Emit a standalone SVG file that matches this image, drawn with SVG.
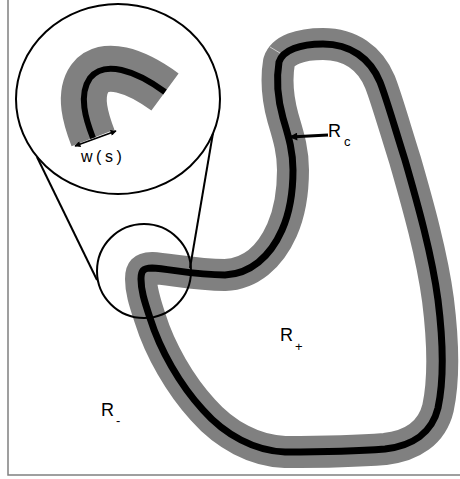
<svg xmlns="http://www.w3.org/2000/svg" width="460" height="479" viewBox="0 0 460 479">
<defs>
<style>
.band{fill:none;stroke:#808080;stroke-linejoin:round}
.core{fill:none;stroke:#000;stroke-linejoin:round}
.lens{fill:none;stroke:#000;stroke-width:2}
.lbl{font-family:"Liberation Sans",Arial,sans-serif;fill:#000}
</style>
<marker id="ah" viewBox="0 0 10 10" refX="9" refY="5" markerWidth="10" markerHeight="8" markerUnits="userSpaceOnUse" orient="auto-start-reverse">
<path d="M0,0 L10,5 L0,10 Z" fill="#000"/>
</marker>
<marker id="ahs" viewBox="0 0 10 10" refX="9" refY="5" markerWidth="8" markerHeight="6" markerUnits="userSpaceOnUse" orient="auto-start-reverse">
<path d="M0,0 L10,5 L0,10 Z" fill="#000"/>
</marker>
</defs>
<rect width="460" height="479" fill="#fff"/>
<path d="M8,0 V475 H460" fill="none" stroke="#808080" stroke-width="1.5"/>

<g id="contour">
<path id="curve" class="band" stroke-width="32" d="M323,44 C350,44 370,58 380,82 C386,97 394,125 405,160 C418,205 432,255 438,300 C443,340 444,380 438,408 C432,433 412,446 385,449 C360,451 310,452 285,452 C255,451 225,435 203,410 C180,385 160,350 150,318 C144,300 141,290 141,279 C141,271 143,268 152,268 C170,269 195,275 225,275 C250,274 270,257 282,230 C290,212 293,190 293,170 C293,150 288,135 283,118 C278,100 276,80 279,62 C283,50 300,44 323,44 Z"/>
<path class="core" stroke-width="7" d="M323,44 C350,44 370,58 380,82 C386,97 394,125 405,160 C418,205 432,255 438,300 C443,340 444,380 438,408 C432,433 412,446 385,449 C360,451 310,452 285,452 C255,451 225,435 203,410 C180,385 160,350 150,318 C144,300 141,290 141,279 C141,271 143,268 152,268 C170,269 195,275 225,275 C250,274 270,257 282,230 C290,212 293,190 293,170 C293,150 288,135 283,118 C278,100 276,80 279,62 C283,50 300,44 323,44 Z"/>
<line x1="270" y1="47" x2="280" y2="53" stroke="#e0e0e0" stroke-width="0.8"/>
</g>

<g id="magnifier">
<circle cx="144" cy="271" r="47" class="lens"/>
<ellipse cx="118" cy="99" rx="102" ry="95" class="lens"/>
<line x1="37" y1="157" x2="97" y2="280" class="lens"/>
<line x1="213" y1="133" x2="190" y2="268" class="lens"/>
</g>

<g id="zoomed-band">
<path class="band" stroke-width="46" stroke-linejoin="miter" d="M93,138 C86,120 78,95 90,78 C104,60 135,70 165,92"/>
<path class="core" stroke-width="6" d="M93,138 C86,120 78,95 90,78 C104,60 135,70 165,92"/>
</g>

<g id="connectors">
<line x1="75" y1="146" x2="116" y2="131" stroke="#000" stroke-width="1.8" marker-start="url(#ahs)" marker-end="url(#ahs)"/>
<line x1="328" y1="135" x2="290" y2="137" stroke="#000" stroke-width="3" marker-end="url(#ah)"/>
</g>

<g id="labels">
<text class="lbl" x="81" y="162" font-size="16" letter-spacing="3.5">w(s)</text>
<text class="lbl" x="328" y="137" font-size="18">R</text>
<text class="lbl" x="344" y="146" font-size="13">c</text>
<text class="lbl" x="280" y="341" font-size="18">R</text>
<text class="lbl" x="295" y="351" font-size="13">+</text>
<text class="lbl" x="101" y="416" font-size="18">R</text>
<text class="lbl" x="116" y="425" font-size="13">-</text>
</g>
</svg>
